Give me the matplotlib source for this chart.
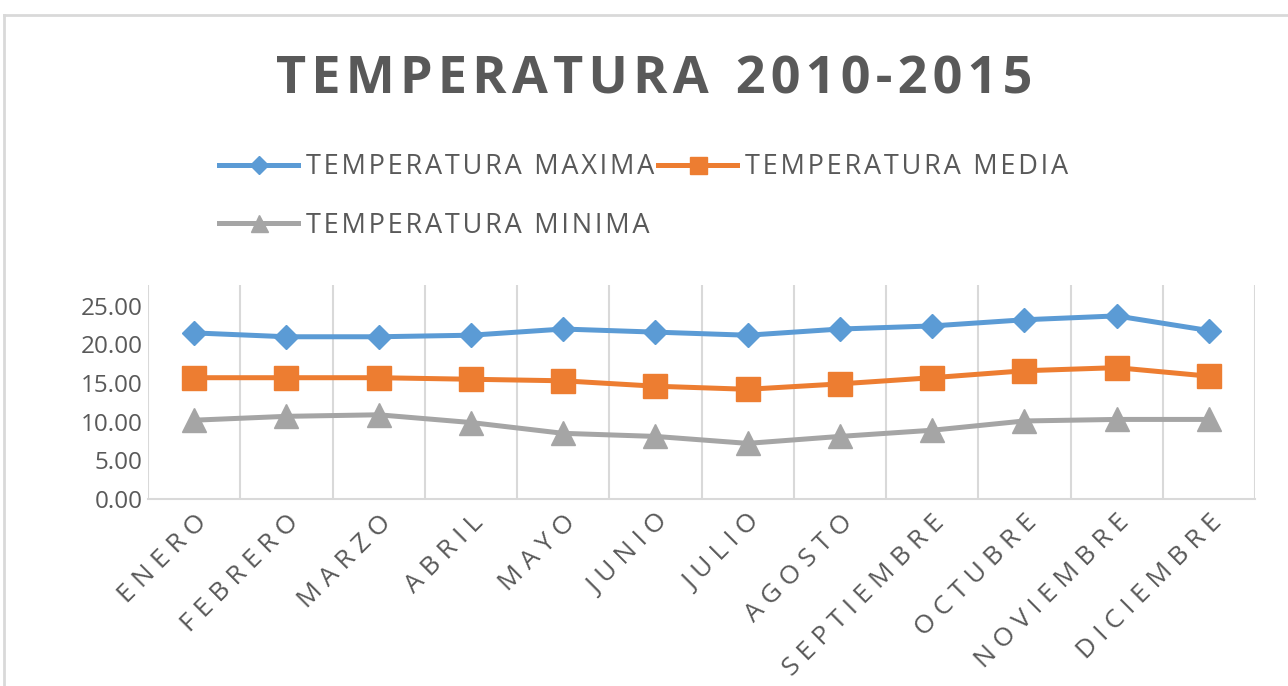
import numpy as np
import matplotlib.pyplot as plt
from matplotlib.lines import Line2D

# Data
meses = ["ENERO", "FEBRERO", "MARZO", "ABRIL", "MAYO", "JUNIO", "JULIO",
         "AGOSTO", "SEPTIEMBRE", "OCTUBRE", "NOVIEMBRE", "DICIEMBRE"]
t_max = [21.5, 21.0, 21.0, 21.2, 22.0, 21.6, 21.2, 22.0, 22.4, 23.2, 23.7, 21.8]
t_media = [15.7, 15.7, 15.7, 15.5, 15.3, 14.6, 14.2, 14.9, 15.7, 16.6, 17.0, 15.9]
t_min = [10.2, 10.7, 10.9, 9.9, 8.5, 8.1, 7.2, 8.1, 8.9, 10.1, 10.3, 10.3]
y_ticks = [0, 5, 10, 15, 20, 25]

plt.rcParams['font.family'] = ['Open Sans', 'DejaVu Sans']
txt = '#595959'
grid_c = '#d9d9d9'
HAIR = "\u200a"
THIN = "\u2009"


def spread(s, gap):
    return gap.join(s)


fig = plt.figure(figsize=(12.88, 6.86), dpi=100)
ax = fig.add_axes([148 / 1288, 1 - 499 / 686, (1255 - 148) / 1288, (499 - 285) / 686])

x = np.arange(len(meses))
l1, = ax.plot(x, t_max, color='#5b9bd5', lw=3.6, marker='D', ms=12.5,
              label=spread('TEMPERATURA MAXIMA', HAIR))
l2, = ax.plot(x, t_media, color='#ed7d31', lw=3.6, marker='s', ms=17,
              label=spread('TEMPERATURA MEDIA', HAIR))
l3, = ax.plot(x, t_min, color='#a5a5a5', lw=3.6, marker='^', ms=17,
              label=spread('TEMPERATURA MINIMA', HAIR))

ax.set_xlim(-0.5, len(meses) - 0.5)
ax.set_ylim(0, 27.7)
ax.set_yticks(y_ticks)
ax.set_yticklabels([f"{v:.2f}" for v in y_ticks], fontsize=17.5, color=txt)

# letter-spaced month labels
ax.set_xticks(x)
ax.set_xticklabels([spread(m, THIN + HAIR) for m in meses], rotation=45, ha='right',
                   rotation_mode='anchor', fontsize=19, color=txt)
ax.set_xticks(np.arange(-0.5, len(meses), 1), minor=True)
ax.grid(axis='x', which='minor', color=grid_c, lw=1.5)
ax.tick_params(axis='both', which='both', length=0)
ax.tick_params(axis='x', pad=8)
ax.tick_params(axis='y', pad=4)
for s in ['top', 'right', 'left']:
    ax.spines[s].set_visible(False)
ax.spines['bottom'].set_color(grid_c)
ax.spines['bottom'].set_linewidth(1.5)

title = spread("TEMPERATURA", HAIR) + "  " + spread("2010-2015", HAIR)
fig.text(0.508, 1 - 80 / 686, title, ha='center', va='center',
         fontsize=37.5, fontweight='bold', color=txt)

fig.legend([l1, l3, l2], [l1.get_label(), l3.get_label(), l2.get_label()],
           ncol=2, loc='upper left', bbox_to_anchor=(195 / 1288, 1 - 129 / 686),
           frameon=False, fontsize=19.5, labelcolor=txt, handlelength=2.9,
           handletextpad=0.3, columnspacing=0.15, labelspacing=1.12, markerscale=0.72)

# chart border
fig.add_artist(Line2D([4 / 1288, 1], [1 - 15 / 686, 1 - 15 / 686], color=grid_c, lw=2))
fig.add_artist(Line2D([4 / 1288, 4 / 1288], [0, 1 - 15 / 686], color=grid_c, lw=2))

fig.savefig('out.png', dpi=100)
